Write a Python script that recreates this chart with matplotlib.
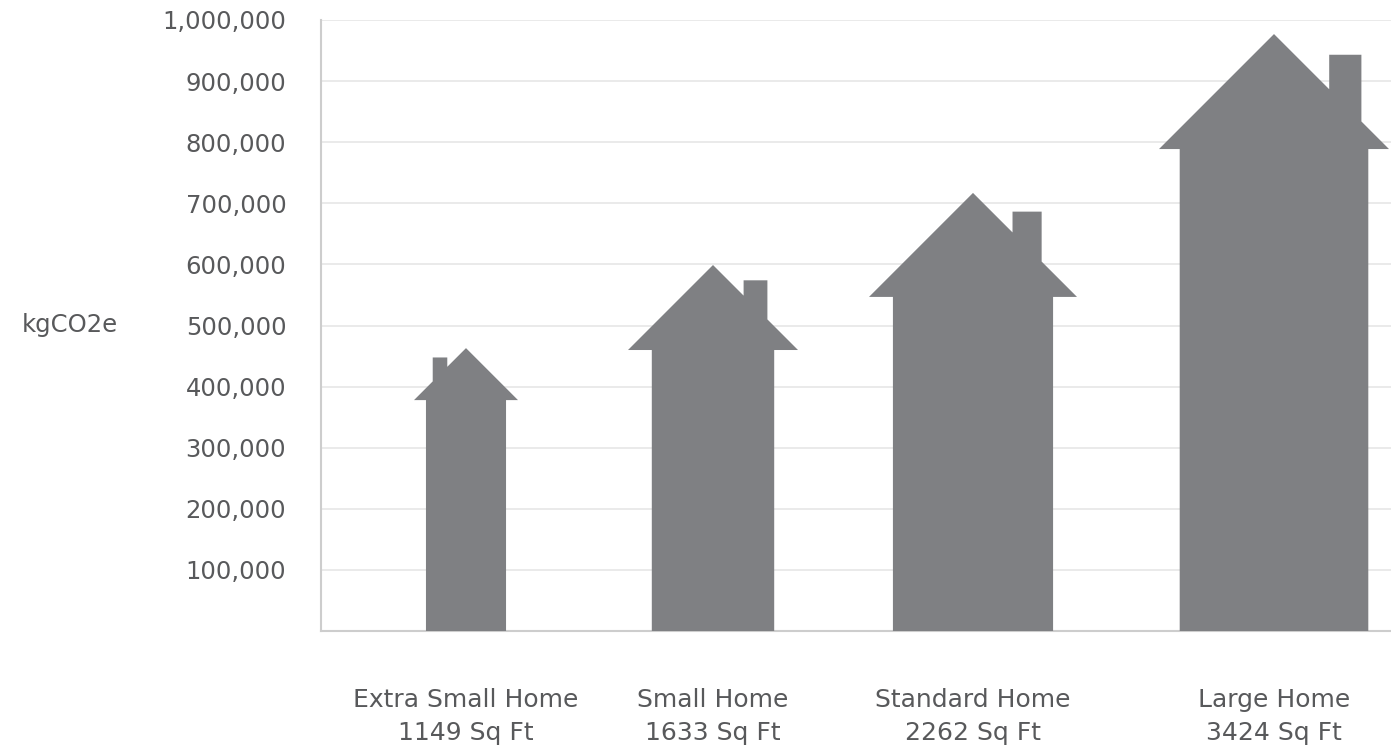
import matplotlib.pyplot as plt
from matplotlib.patches import Polygon

# embodied carbon per home type (roof peak value, kgCO2e)
categories = ["Extra Small Home", "Small Home", "Standard Home", "Large Home"]
square_feet = [1149, 1633, 2262, 3424]
emissions = [463000, 599000, 717000, 977000]
y_ticks = [100000, 200000, 300000, 400000, 500000, 600000, 700000, 800000, 900000, 1000000]

# house layout, x in pixel-sized units
centers = [145, 392, 652, 953]
roof_half = [52, 85, 104, 115]
body_ratio = [0.77, 0.72, 0.77, 0.82]
chimney_side = [-1, 1, 1, 1]
chimney_inner = [0.36, 0.36, 0.38, 0.48]

HOUSE = "#7f8083"
TEXT = "#58595b"
FONT = ["DejaVu Sans"]

plt.rcParams["font.family"] = FONT

W, H = 1391, 750
fig = plt.figure(figsize=(W / 100, H / 100), dpi=100)
left, right, bottom, top = 321, 1391, 631, 20
ax = fig.add_axes([left / W, 1 - bottom / H, (right - left) / W, (bottom - top) / H])
ax.set_xlim(0, right - left)
ax.set_ylim(0, 1000000)

# kg per pixel so the roof keeps a 45 degree pitch on screen
k = 1000000 / (bottom - top)


def house(c, peak, r, bratio, side, inner):
    b = r * bratio
    eave = peak - r * k
    ci = r * inner
    cw = r * 0.28
    ctop = peak - r * 0.18 * k
    pts = [
        (-b, 0), (-b, eave), (-r, eave), (0, peak),
        (ci, peak - ci * k), (ci, ctop), (ci + cw, ctop),
        (ci + cw, peak - (ci + cw) * k), (r, eave), (b, eave), (b, 0),
    ]
    return [(c + side * x, y) for x, y in pts]


for c, v, r, br, s, ci in zip(centers, emissions, roof_half, body_ratio, chimney_side, chimney_inner):
    ax.add_patch(Polygon(house(c, v, r, br, s, ci), closed=True, facecolor=HOUSE,
                         edgecolor="none", zorder=3, clip_on=True))

ax.set_yticks(y_ticks)
ax.set_yticklabels([f"{t:,}" for t in y_ticks])
ax.grid(axis="y", color="#e8e8e8", linewidth=1.3, zorder=0)
ax.set_axisbelow(True)

ax.set_xticks(centers)
ax.set_xticklabels([f"{n}\n{sq} Sq Ft" for n, sq in zip(categories, square_feet)],
                   linespacing=1.5)

ax.tick_params(axis="y", length=0, pad=25, labelsize=17.5, labelcolor=TEXT)
ax.tick_params(axis="x", length=0, pad=41, labelsize=18, labelcolor=TEXT)

for side in ["top", "right"]:
    ax.spines[side].set_visible(False)
for side in ["left", "bottom"]:
    ax.spines[side].set_color("#cdcdcd")
    ax.spines[side].set_linewidth(1.5)

fig.text(70 / W, 1 - 325 / H, "kgCO2e", ha="center", va="center",
         fontsize=17.5, color=TEXT)

fig.savefig("out.png", dpi=100, facecolor="white")
